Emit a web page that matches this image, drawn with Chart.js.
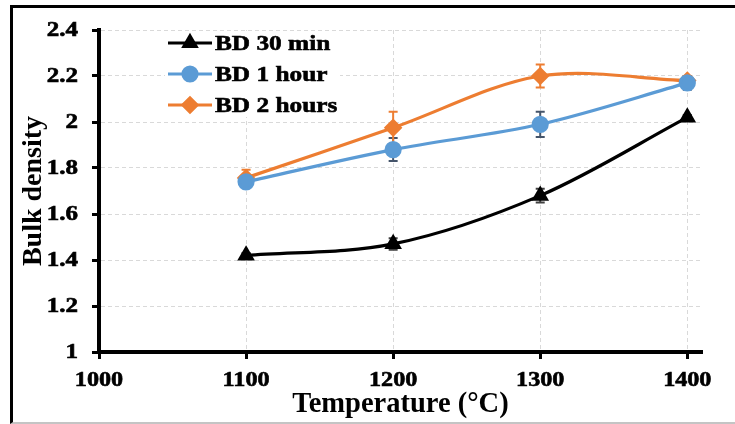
<!DOCTYPE html>
<html>
<head>
<meta charset="utf-8">
<script src="https://cdn.jsdelivr.net/npm/chart.js@4"></script>
<style>
    body { margin: 0; background: #fff; }
    #wrap { position: relative; width: 735px; height: 424px; }
    #frame {
        position: absolute; left: 10px; top: 5px; width: 725px; height: 419px;
        box-sizing: border-box; border-top: 3px solid #000; border-left: 3px solid #000;
        border-bottom: 2px solid #c4c4c4; pointer-events: none;
    }
</style>
</head>
<body>
<div id="wrap">
    <canvas id="chart" width="735" height="424"></canvas>
    <div id="frame"></div>
</div>
<script>
// temperatures (°C)
const temps = [1100, 1200, 1300, 1400];

// bulk density, mean values and error bar half-lengths
const bd30min = [1.42, 1.47, 1.68, 2.02];
const err30min = [0.01, 0.025, 0.03, 0.01];
const bd1hour = [1.74, 1.88, 1.99, 2.17];
const err1hour = [0.01, 0.05, 0.055, 0.03];
const bd2hours = [1.757, 1.975, 2.2, 2.18];
const err2hours = [0.035, 0.07, 0.05, 0.02];

const seriesNames = ['BD 30 min', 'BD 1 hour', 'BD 2 hours'];

// axis ticks
const xTicks = [1000, 1100, 1200, 1300, 1400];
const xTickLabels = ['1000', '1100', '1200', '1300', '1400'];
const yTicks = [1, 1.2, 1.4, 1.6, 1.8, 2, 2.2, 2.4];
const yTickLabels = ['1', '1.2', '1.4', '1.6', '1.8', '2', '2.2', '2.4'];

const serif = '"Liberation Serif", "Times New Roman", serif';

function toPoints(ys) {
    return temps.map((t, i) => ({ x: t, y: ys[i] }));
}

// text in the original is a bit wider and heavier than Times, so stretch it sideways
function wideText(ctx, text, x, y, sx, align) {
    ctx.save();
    ctx.translate(x, y);
    ctx.scale(sx, 1);
    ctx.textAlign = align;
    ctx.lineWidth = 0.6;
    ctx.strokeStyle = ctx.fillStyle;
    ctx.fillText(text, 0, 0);
    ctx.strokeText(text, 0, 0);
    ctx.restore();
}

// error bars drawn behind the markers
const errorBars = {
    id: 'errorBars',
    beforeDatasetsDraw(chart) {
        const ctx = chart.ctx;
        const xs = chart.scales.x, ys = chart.scales.y;
        chart.data.datasets.forEach(ds => {
            ctx.save();
            ctx.strokeStyle = ds.errColor;
            ctx.lineWidth = 2;
            ds.data.forEach((p, i) => {
                const e = ds.errors[i];
                const px = xs.getPixelForValue(p.x);
                const top = ys.getPixelForValue(p.y + e);
                const bot = ys.getPixelForValue(p.y - e);
                ctx.beginPath();
                ctx.moveTo(px, top); ctx.lineTo(px, bot);
                ctx.moveTo(px - 4.5, top); ctx.lineTo(px + 4.5, top);
                ctx.moveTo(px - 4.5, bot); ctx.lineTo(px + 4.5, bot);
                ctx.stroke();
            });
            ctx.restore();
        });
    }
};

// tick labels
const tickLabels = {
    id: 'tickLabels',
    afterDraw(chart) {
        const ctx = chart.ctx;
        const xs = chart.scales.x, ys = chart.scales.y;
        ctx.save();
        ctx.fillStyle = '#000';
        ctx.textBaseline = 'middle';
        ctx.font = 'bold 21px ' + serif;
        xTicks.forEach((v, i) => {
            wideText(ctx, xTickLabels[i], xs.getPixelForValue(v), xs.top + 29, 1.15, 'center');
        });
        ctx.font = 'bold 20px ' + serif;
        yTicks.forEach((v, i) => {
            wideText(ctx, yTickLabels[i], ys.right - 21, ys.getPixelForValue(v) + 1, 1.25, 'right');
        });
        ctx.restore();
    }
};

// legend inside the plot, line + marker style
const innerLegend = {
    id: 'innerLegend',
    afterDatasetsDraw(chart) {
        const ctx = chart.ctx;
        const area = chart.chartArea;
        const x0 = area.left + 69, y0 = area.top + 13, row = 31;
        ctx.save();
        ctx.fillStyle = '#fff';
        ctx.fillRect(x0 - 3, y0 - 12, 175, 86);
        chart.data.datasets.forEach((ds, i) => {
            const y = y0 + i * row;
            ctx.strokeStyle = ds.borderColor;
            ctx.lineWidth = ds.borderWidth;
            ctx.beginPath();
            ctx.moveTo(x0, y); ctx.lineTo(x0 + 44, y);
            ctx.stroke();
            ctx.fillStyle = ds.backgroundColor;
            ctx.strokeStyle = ds.borderColor;
            Chart.helpers.drawPoint(ctx, {
                pointStyle: ds.pointStyle, radius: ds.pointRadius, rotation: 0, borderWidth: 1
            }, x0 + 22, y);
            ctx.fillStyle = '#000';
            ctx.font = 'bold 22px ' + serif;
            ctx.textBaseline = 'middle';
            wideText(ctx, ds.label, x0 + 47, y + 1, 1.15, 'left');
        });
        ctx.restore();
    }
};

const gridStyle = {
    color: '#d9d9d9',
    lineWidth: 1,
    tickLength: 7,
    tickWidth: 3,
    tickColor: '#000',
};

new Chart(document.getElementById('chart'), {
    type: 'line',
    data: {
        datasets: [
            {
                label: seriesNames[0],
                data: toPoints(bd30min),
                errors: err30min,
                errColor: '#404040',
                borderColor: '#000',
                backgroundColor: '#000',
                borderWidth: 3.2,
                pointStyle: 'triangle',
                pointRadius: 7,
                tension: 0.33,
            },
            {
                label: seriesNames[1],
                data: toPoints(bd1hour),
                errors: err1hour,
                errColor: '#44546A',
                borderColor: '#5B9BD5',
                backgroundColor: '#5B9BD5',
                borderWidth: 3.2,
                pointStyle: 'circle',
                pointRadius: 7,
                tension: 0.33,
            },
            {
                label: seriesNames[2],
                data: toPoints(bd2hours),
                errors: err2hours,
                errColor: '#ED7D31',
                borderColor: '#ED7D31',
                backgroundColor: '#ED7D31',
                borderWidth: 3.2,
                pointStyle: 'rectRot',
                pointRadius: 7,
                tension: 0.33,
            }
        ]
    },
    options: {
        responsive: false,
        animation: false,
        devicePixelRatio: 1,
        layout: { padding: { left: 0, right: 33, top: 30, bottom: 0 } },
        plugins: { legend: { display: false }, tooltip: { enabled: false } },
        scales: {
            x: {
                type: 'linear',
                min: 1000,
                max: 1410,
                afterBuildTicks: s => { s.ticks = xTicks.map(v => ({ value: v })); },
                afterFit: s => { s.height = 72; },
                ticks: { display: false },
                grid: gridStyle,
                border: { color: '#000', width: 4, dash: [4, 3] },
                title: {
                    display: true,
                    text: 'Temperature (°C)',
                    color: '#000',
                    font: { family: serif, size: 28.5, weight: 'bold' },
                    padding: { top: 0, bottom: 2 },
                },
            },
            y: {
                min: 1,
                max: 2.4,
                afterBuildTicks: s => { s.ticks = yTicks.map(v => ({ value: v })); },
                afterFit: s => { s.width = 99; },
                ticks: { display: false },
                grid: gridStyle,
                border: { color: '#000', width: 4, dash: [4, 3] },
                title: {
                    display: true,
                    text: 'Bulk density',
                    color: '#000',
                    font: { family: serif, size: 28, weight: 'bold' },
                    padding: { top: 17, bottom: 0 },
                },
            }
        }
    },
    plugins: [errorBars, tickLabels, innerLegend]
});
</script>
</body>
</html>
